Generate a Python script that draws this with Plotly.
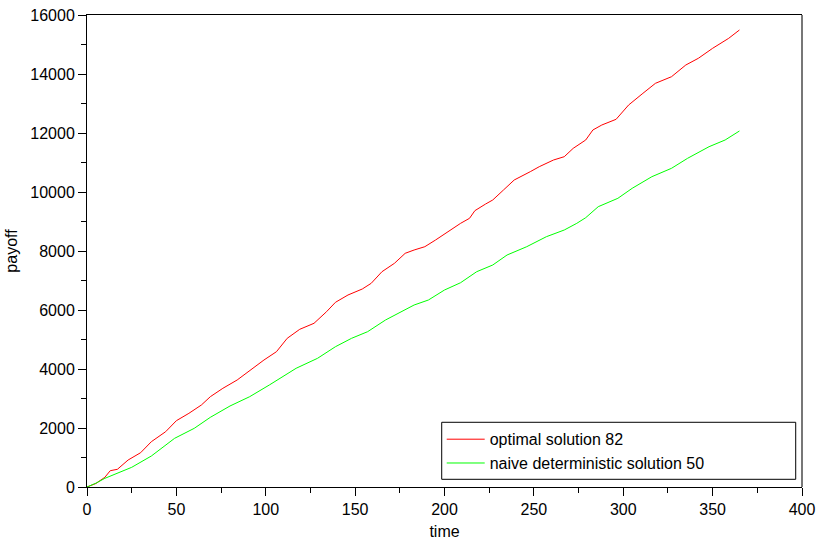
import plotly.graph_objects as go

# Optimal solution (red) readings: time, payoff
opt_t = [0, 5, 10, 13, 17, 23, 30, 36, 44, 50, 57, 64, 69, 76, 84, 91, 99, 106, 112, 119,
         127, 134, 139, 146, 154, 159, 165, 172, 178, 183, 189, 195, 202, 209, 214, 217,
         223, 227, 233, 239, 248, 253, 261, 267, 272, 279, 283, 288, 296, 303, 311, 318,
         327, 335, 342, 350, 359, 365]
opt_v = [0, 120, 330, 553, 600, 915, 1163, 1536, 1875, 2248, 2497, 2780, 3061, 3345, 3627,
         3943, 4305, 4587, 5040, 5345, 5549, 5942, 6261, 6508, 6712, 6905, 7298, 7583, 7922,
         8034, 8146, 8373, 8654, 8938, 9108, 9367, 9593, 9729, 10068, 10407, 10689, 10858,
         11085, 11197, 11480, 11763, 12102, 12271, 12464, 12949, 13345, 13684, 13908, 14305,
         14532, 14871, 15210, 15492]

# Naive deterministic solution (green) readings
naive_t = [0, 5, 10, 17, 25, 36, 49, 60, 69, 80, 91, 102, 110, 117, 129, 139, 148, 157, 167,
           176, 183, 191, 200, 209, 218, 227, 235, 246, 257, 267, 274, 279, 286, 297, 305,
           316, 327, 336, 348, 357, 365]
naive_v = [0, 130, 294, 464, 667, 1051, 1650, 1989, 2362, 2746, 3061, 3458, 3763, 4024, 4363,
           4756, 5040, 5265, 5661, 5942, 6169, 6339, 6678, 6925, 7298, 7525, 7864, 8146, 8485,
           8712, 8938, 9129, 9502, 9786, 10125, 10519, 10803, 11142, 11536, 11763, 12068]

names = ["optimal solution 82", "naive deterministic solution 50"]

FONT = "Liberation Sans, Arial, Helvetica, sans-serif"

fig = go.Figure()
fig.add_trace(go.Scatter(x=opt_t, y=opt_v, mode="lines", name=names[0],
                         line=dict(color="#ff0000", width=1)))
fig.add_trace(go.Scatter(x=naive_t, y=naive_v, mode="lines", name=names[1],
                         line=dict(color="#00ff00", width=1)))

fig.update_layout(
    width=818, height=540,
    margin=dict(l=87, r=16, t=15, b=53, autoexpand=False),
    paper_bgcolor="white", plot_bgcolor="white",
    font=dict(family=FONT, size=16, color="black"),
    showlegend=True,
    legend=dict(x=0.4961, y=0.1371, xanchor="left", yanchor="top",
                borderwidth=0, bgcolor="rgba(0,0,0,0)", itemwidth=38,
                font=dict(size=16), tracegroupgap=0),
)
fig.update_xaxes(range=[0, 400], dtick=50, tick0=0, showgrid=False, zeroline=False,
                 automargin=False, tickformat="d",
                 showline=True, linecolor="black", linewidth=1, mirror=True,
                 ticks="outside", ticklen=8, tickcolor="black",
                 minor=dict(dtick=25, ticks="outside", ticklen=5, tickcolor="black", showgrid=False),
                 title=dict(text="time", font=dict(size=16), standoff=12))
fig.update_yaxes(range=[0, 16000], dtick=2000, tick0=0, showgrid=False, zeroline=False,
                 automargin=False, tickformat="d",
                 showline=True, linecolor="black", linewidth=1,
                 ticks="outside", ticklen=8, tickcolor="black",
                 minor=dict(dtick=1000, ticks="outside", ticklen=5, tickcolor="black", showgrid=False),
                 title=dict(text="payoff", font=dict(size=16), standoff=8))
fig.add_shape(type="line", xref="paper", yref="paper", x0=1, x1=1, y0=0, y1=1,
              line=dict(color="#777777", width=2))
fig.add_shape(type="rect", xref="paper", yref="paper", x0=0.4961, x1=0.9912, y0=0.0163, y1=0.1371,
              line=dict(color="black", width=1), fillcolor="white", layer="below")

fig.write_html("out.html")
